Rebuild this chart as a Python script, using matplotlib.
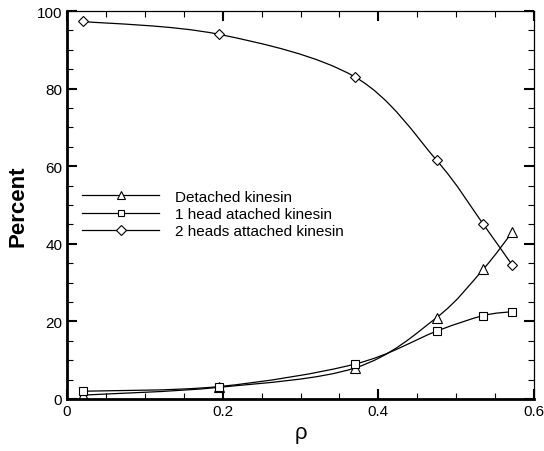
import numpy as np
import matplotlib
matplotlib.use('Agg')
import matplotlib.pyplot as plt
from matplotlib.path import Path
from matplotlib.patches import PathPatch
from matplotlib.lines import Line2D
from matplotlib.ticker import MultipleLocator

plt.rcParams['font.family'] = ['Liberation Sans', 'DejaVu Sans']

# data
rho = [0.02, 0.195, 0.37, 0.475, 0.535, 0.572]
detached = [1.0, 3.0, 8.0, 21.0, 33.5, 43.0]
one_head = [2.0, 3.2, 9.0, 17.5, 21.5, 22.5]
two_heads = [97.3, 94.0, 83.0, 61.5, 45.0, 34.5]
labels = ['Detached kinesin', '1 head atached kinesin', '2 heads attached kinesin']
markers = ['^', 's', 'D']


def smooth_path(x, y):
    # Catmull-Rom style bezier through the data points
    x = np.asarray(x, float)
    y = np.asarray(y, float)
    n = len(x)
    verts = [(x[0], y[0])]
    codes = [Path.MOVETO]
    for i in range(n - 1):
        p0 = np.array([x[max(i - 1, 0)], y[max(i - 1, 0)]])
        p1 = np.array([x[i], y[i]])
        p2 = np.array([x[i + 1], y[i + 1]])
        p3 = np.array([x[min(i + 2, n - 1)], y[min(i + 2, n - 1)]])
        c1 = p1 + (p2 - p0) / 6.0
        c2 = p2 - (p3 - p1) / 6.0
        verts += [tuple(c1), tuple(c2), tuple(p2)]
        codes += [Path.CURVE4] * 3
    return Path(verts, codes)


fig = plt.figure(figsize=(5.44, 4.52), dpi=100)
ax = fig.add_axes([67 / 544, 52 / 452, 467 / 544, 388 / 452])

plot_ms = {'^': 7, 's': 6, 'D': 5.5}
leg_ms = {'^': 6, 's': 4.5, 'D': 5}
handles = []
for ys, m in zip([detached, one_head, two_heads], markers):
    ax.add_patch(PathPatch(smooth_path(rho, ys), fill=False, lw=0.9, ec='black'))
    ax.plot(rho, ys, ls='none', marker=m, ms=plot_ms[m], mfc='white', mec='black', mew=0.8)
    handles.append(Line2D([], [], color='black', lw=0.9, marker=m, ms=leg_ms[m],
                          mfc='white', mec='black', mew=0.8))

ax.legend(handles, labels, loc='upper left', bbox_to_anchor=(0.02, 0.555),
          frameon=False, fontsize=11, handlelength=5.0, handletextpad=1.05,
          labelspacing=0.22, borderaxespad=0)

ax.set_xlim(0, 0.6)
ax.set_ylim(0, 100)
ax.xaxis.set_minor_locator(MultipleLocator(0.05))
ax.yaxis.set_major_locator(MultipleLocator(20))
ax.yaxis.set_minor_locator(MultipleLocator(5))
ax.set_xticks([0, 0.2, 0.4, 0.6])
ax.set_xticklabels(['0', '0.2', '0.4', '0.6'])
ax.tick_params(which='both', direction='in', top=True, right=True, labelsize=11)
ax.tick_params(which='major', length=7, width=1.5)
ax.tick_params(which='minor', length=4.3, width=0.8)
ax.spines['left'].set_linewidth(2)
ax.spines['bottom'].set_linewidth(2)
ax.spines['top'].set_linewidth(0.9)
ax.spines['right'].set_linewidth(0.9)

ax.set_xlabel('ρ', fontsize=16, labelpad=3)
ax.set_ylabel('Percent', fontsize=16, fontweight='bold', labelpad=6)

fig.savefig('out.png', dpi=100)
